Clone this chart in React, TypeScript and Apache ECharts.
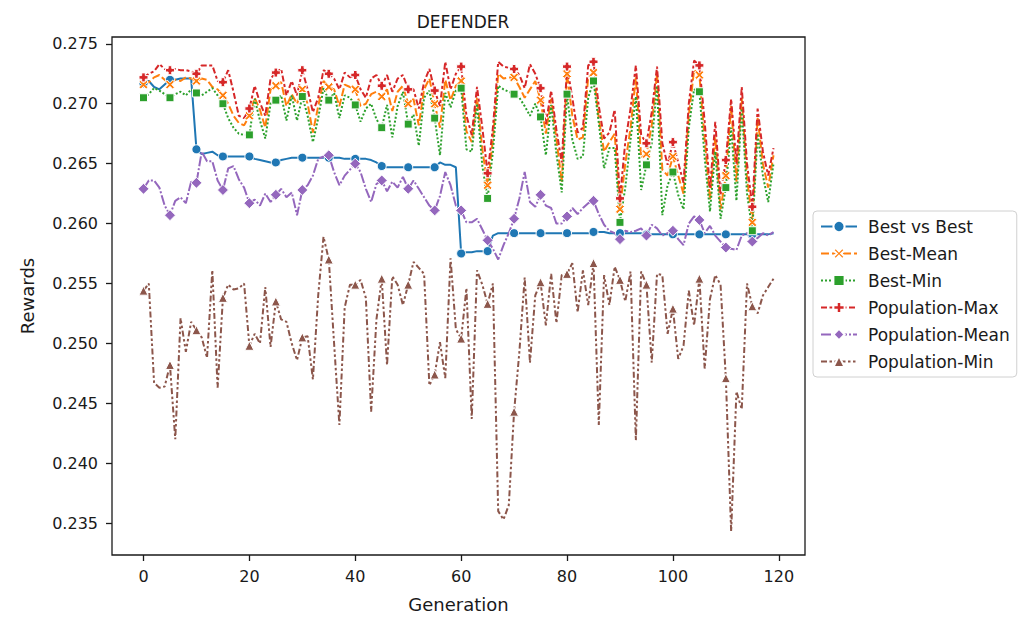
import React, { useEffect, useRef } from "react";
import * as echarts from "echarts";

const generations: number[] = Array.from({ length: 120 }, (_, i) => i);

const bestVsBest = [
  0.2717, 0.2719, 0.2714, 0.2712, 0.2716, 0.2720, 0.2720, 0.2721, 0.2721, 0.2721,
  0.2662, 0.2658, 0.2659, 0.2660, 0.2657, 0.2656, 0.2656, 0.2656, 0.2656, 0.2656,
  0.2656, 0.2654, 0.2653, 0.2652, 0.2651, 0.2651, 0.2653, 0.2654, 0.2655, 0.2655,
  0.2655, 0.2655, 0.2655, 0.2655, 0.2655, 0.2655, 0.2655, 0.2655, 0.2654, 0.2654,
  0.2654, 0.2654, 0.2654, 0.2653, 0.2651, 0.2648, 0.2647, 0.2647, 0.2647, 0.2647,
  0.2647, 0.2647, 0.2647, 0.2647, 0.2647, 0.2647, 0.2651, 0.2649, 0.2649, 0.2647,
  0.2575, 0.2576, 0.2576, 0.2577, 0.2577, 0.2577, 0.2590, 0.2592, 0.2592, 0.2592,
  0.2592, 0.2592, 0.2592, 0.2592, 0.2592, 0.2592, 0.2592, 0.2592, 0.2592, 0.2592,
  0.2592, 0.2592, 0.2592, 0.2592, 0.2592, 0.2593, 0.2593, 0.2593, 0.2592, 0.2592,
  0.2592, 0.2592, 0.2592, 0.2592, 0.2592, 0.2591, 0.2591, 0.2591, 0.2591, 0.2591,
  0.2591, 0.2591, 0.2591, 0.2591, 0.2591, 0.2591, 0.2591, 0.2591, 0.2591, 0.2591,
  0.2591, 0.2591, 0.2591, 0.2591, 0.2591, 0.2591, 0.2591, 0.2591, 0.2591, 0.2592,
];

const bestMean = [
  0.2716, 0.2718, 0.2722, 0.2724, 0.2720, 0.2716, 0.2720, 0.2719, 0.2722, 0.2721,
  0.2719, 0.2721, 0.2720, 0.2714, 0.2712, 0.2707, 0.2700, 0.2690, 0.2684, 0.2682,
  0.2690, 0.2705, 0.2695, 0.2680, 0.2712, 0.2715, 0.2718, 0.2698, 0.2708, 0.2700,
  0.2712, 0.2700, 0.2676, 0.2698, 0.2719, 0.2714, 0.2712, 0.2698, 0.2716, 0.2714,
  0.2712, 0.2698, 0.2700, 0.2708, 0.2710, 0.2706, 0.2712, 0.2694, 0.2710, 0.2715,
  0.2700, 0.2704, 0.2682, 0.2712, 0.2721, 0.2700, 0.2680, 0.2720, 0.2703, 0.2715,
  0.2719, 0.2677, 0.2668, 0.2705, 0.2662, 0.2632, 0.2670, 0.2725, 0.2721, 0.2722,
  0.2722, 0.2714, 0.2705, 0.2712, 0.2719, 0.2703, 0.2675, 0.2704, 0.2670, 0.2635,
  0.2725, 0.2690, 0.2670, 0.2672, 0.2722, 0.2726, 0.2688, 0.2660, 0.2668, 0.2675,
  0.2612, 0.2650, 0.2680, 0.2722, 0.2655, 0.2658, 0.2682, 0.2725, 0.2645, 0.2640,
  0.2656, 0.2640, 0.2625, 0.2690, 0.2728, 0.2724, 0.2670, 0.2620, 0.2672, 0.2612,
  0.2640, 0.2698, 0.2635, 0.2705, 0.2638, 0.2601, 0.2688, 0.2650, 0.2630, 0.2657,
];

const bestMin = [
  0.2705, 0.2708, 0.2713, 0.2711, 0.2708, 0.2705, 0.2708, 0.2710, 0.2707, 0.2712,
  0.2709, 0.2707, 0.2710, 0.2713, 0.2707, 0.2700, 0.2688, 0.2680, 0.2675, 0.2674,
  0.2674, 0.2704, 0.2686, 0.2671, 0.2700, 0.2703, 0.2707, 0.2686, 0.2707, 0.2686,
  0.2706, 0.2690, 0.2668, 0.2688, 0.2713, 0.2703, 0.2709, 0.2688, 0.2707, 0.2705,
  0.2699, 0.2685, 0.2696, 0.2700, 0.2687, 0.2680, 0.2699, 0.2672, 0.2698, 0.2710,
  0.2683, 0.2691, 0.2665, 0.2705, 0.2711, 0.2688, 0.2657, 0.2709, 0.2697, 0.2711,
  0.2713, 0.2662, 0.2660, 0.2700, 0.2648, 0.2621, 0.2660, 0.2715, 0.2712, 0.2710,
  0.2708, 0.2705, 0.2698, 0.2690, 0.2700, 0.2689, 0.2657, 0.2699, 0.2658, 0.2626,
  0.2708, 0.2670, 0.2654, 0.2656, 0.2705, 0.2719, 0.2684, 0.2646, 0.2663, 0.2663,
  0.2601, 0.2630, 0.2670, 0.2706, 0.2628, 0.2649, 0.2667, 0.2715, 0.2607, 0.2632,
  0.2643, 0.2624, 0.2612, 0.2680, 0.2712, 0.2710, 0.2655, 0.2610, 0.2660, 0.2604,
  0.2630, 0.2680, 0.2619, 0.2696, 0.2625, 0.2594, 0.2675, 0.2640, 0.2618, 0.2650,
];

const popMax = [
  0.2722, 0.2725, 0.2727, 0.2733, 0.2729, 0.2728, 0.2729, 0.2728, 0.2728, 0.2727,
  0.2725, 0.2732, 0.2732, 0.2732, 0.2719, 0.2718, 0.2728, 0.2710, 0.2690, 0.2688,
  0.2696, 0.2715, 0.2701, 0.2690, 0.2721, 0.2726, 0.2729, 0.2707, 0.2719, 0.2707,
  0.2728, 0.2712, 0.2693, 0.2705, 0.2728, 0.2725, 0.2721, 0.2712, 0.2726, 0.2722,
  0.2724, 0.2712, 0.2705, 0.2721, 0.2724, 0.2715, 0.2724, 0.2710, 0.2721, 0.2724,
  0.2712, 0.2712, 0.2696, 0.2718, 0.2729, 0.2711, 0.2698, 0.2735, 0.2712, 0.2725,
  0.2731, 0.2690, 0.2674, 0.2714, 0.2680, 0.2642, 0.2680, 0.2735, 0.2731, 0.2730,
  0.2729, 0.2724, 0.2713, 0.2733, 0.2725, 0.2713, 0.2683, 0.2711, 0.2678, 0.2651,
  0.2731, 0.2705, 0.2676, 0.2680, 0.2732, 0.2735, 0.2698, 0.2671, 0.2676, 0.2695,
  0.2621, 0.2668, 0.2696, 0.2732, 0.2674, 0.2667, 0.2693, 0.2731, 0.2667, 0.2649,
  0.2668, 0.2651, 0.2634, 0.2700, 0.2736, 0.2732, 0.2685, 0.2629, 0.2685, 0.2624,
  0.2653, 0.2704, 0.2650, 0.2714, 0.2650, 0.2614, 0.2696, 0.2660, 0.2640, 0.2663,
];

const popMean = [
  0.2629, 0.2636, 0.2636, 0.2630, 0.2615, 0.2607, 0.2619, 0.2622, 0.2617, 0.2635,
  0.2634, 0.2660, 0.2652, 0.2652, 0.2636, 0.2628, 0.2646, 0.2648, 0.2637, 0.2630,
  0.2617, 0.2620, 0.2615, 0.2625, 0.2618, 0.2624, 0.2629, 0.2622, 0.2626, 0.2607,
  0.2628, 0.2632, 0.2640, 0.2654, 0.2656, 0.2657, 0.2643, 0.2632, 0.2640, 0.2645,
  0.2650, 0.2643, 0.2629, 0.2618, 0.2633, 0.2636, 0.2627, 0.2635, 0.2630, 0.2639,
  0.2629, 0.2636, 0.2629, 0.2622, 0.2615, 0.2611, 0.2623, 0.2643, 0.2632, 0.2615,
  0.2611, 0.2601, 0.2601, 0.2604, 0.2595, 0.2586, 0.2579, 0.2570, 0.2582, 0.2592,
  0.2604, 0.2621, 0.2643, 0.2618, 0.2614, 0.2624, 0.2615, 0.2613, 0.2600, 0.2600,
  0.2606, 0.2613, 0.2608, 0.2613, 0.2617, 0.2619, 0.2608, 0.2599, 0.2594, 0.2592,
  0.2587, 0.2594, 0.2593, 0.2594, 0.2596, 0.2590, 0.2599, 0.2596, 0.2590, 0.2592,
  0.2594, 0.2587, 0.2582, 0.2600, 0.2606, 0.2603, 0.2592, 0.2598, 0.2590, 0.2585,
  0.2580, 0.2579, 0.2578, 0.2590, 0.2592, 0.2585, 0.2588, 0.2592, 0.2590, 0.2593,
];

const popMin = [
  0.2544, 0.2550, 0.2467, 0.2463, 0.2464, 0.2482, 0.2420, 0.2521, 0.2493, 0.2518,
  0.2511, 0.2505, 0.2488, 0.2561, 0.2463, 0.2538, 0.2549, 0.2545, 0.2546, 0.2550,
  0.2498, 0.2508, 0.2500, 0.2547, 0.2497, 0.2535, 0.2520, 0.2518, 0.2500, 0.2486,
  0.2505, 0.2506, 0.2470, 0.2540, 0.2589, 0.2570, 0.2500, 0.2432, 0.2530, 0.2549,
  0.2549, 0.2553, 0.2538, 0.2443, 0.2520, 0.2554, 0.2482, 0.2556, 0.2549, 0.2532,
  0.2549, 0.2568, 0.2563, 0.2558, 0.2465, 0.2474, 0.2501, 0.2471, 0.2571, 0.2512,
  0.2504, 0.2546, 0.2437, 0.2561, 0.2549, 0.2533, 0.2550, 0.2360, 0.2353, 0.2365,
  0.2443, 0.2493, 0.2555, 0.2484, 0.2540, 0.2551, 0.2515, 0.2558, 0.2517, 0.2557,
  0.2558, 0.2567, 0.2526, 0.2561, 0.2532, 0.2567, 0.2432, 0.2557, 0.2532, 0.2564,
  0.2553, 0.2535, 0.2560, 0.2419, 0.2560, 0.2549, 0.2484, 0.2558, 0.2557, 0.2508,
  0.2529, 0.2487, 0.2498, 0.2544, 0.2515, 0.2554, 0.2479, 0.2537, 0.2557, 0.2549,
  0.2471, 0.2343, 0.2460, 0.2445, 0.2550, 0.2531, 0.2525, 0.2540, 0.2547, 0.2554,
];

const xTicks = [0, 20, 40, 60, 80, 100, 120];
const yTicks = [0.235, 0.24, 0.245, 0.25, 0.255, 0.26, 0.265, 0.27, 0.275];

const FONT = "DejaVu Sans";
const MARK_EVERY = 5;

const X_PATH =
  "path://M0,2L2,0L5,3L8,0L10,2L7,5L10,8L8,10L5,7L2,10L0,8L3,5Z";
const P_PATH = "path://M3,0L7,0L7,3L10,3L10,7L7,7L7,10L3,10L3,7L0,7L0,3L3,3Z";

const seriesDefs = [
  { name: "Best vs Best", values: bestVsBest, color: "#1f77b4", dash: "solid" as any, symbol: "circle", size: 9 },
  { name: "Best-Mean", values: bestMean, color: "#ff7f0e", dash: [8, 3], symbol: X_PATH, size: 9 },
  { name: "Best-Min", values: bestMin, color: "#2ca02c", dash: [2, 2], symbol: "rect", size: 8 },
  { name: "Population-Max", values: popMax, color: "#d62728", dash: [6, 2.5, 3, 2.5], symbol: P_PATH, size: 9 },
  { name: "Population-Mean", values: popMean, color: "#9467bd", dash: [10, 2, 2, 2], symbol: "diamond", size: 11 },
  { name: "Population-Min", values: popMin, color: "#8c564b", dash: [6, 2.5, 2.5, 2.5, 2.5, 2.5], symbol: "triangle", size: 9 },
];

export default function App() {
  const ref = useRef<HTMLDivElement>(null);

  useEffect(() => {
    if (!ref.current) return;
    const chart = echarts.init(ref.current, undefined, { renderer: "svg" });

    const series = seriesDefs.map((s) => ({
      type: "line",
      name: s.name,
      symbol: s.symbol,
      symbolSize: s.size,
      showSymbol: true,
      showAllSymbol: true,
      data: generations.map((g, i) =>
        i % MARK_EVERY === 0
          ? { value: [g, s.values[i]] }
          : { value: [g, s.values[i]], symbol: "none" }
      ),
      lineStyle: { color: s.color, width: 2, type: s.dash },
      itemStyle: { color: s.color, borderColor: "#ffffff", borderWidth: 1 },
      emphasis: { disabled: true },
    }));

    chart.setOption({
      animation: false,
      backgroundColor: "#ffffff",
      textStyle: { fontFamily: FONT },
      title: {
        text: "DEFENDER",
        left: 458,
        top: 8,
        textAlign: "center",
        textStyle: { fontFamily: FONT, fontSize: 17, fontWeight: "normal", color: "#1a1a1a" },
      },
      grid: {
        left: 112,
        top: 37,
        width: 693,
        height: 519,
        show: true,
        borderColor: "#1a1a1a",
        borderWidth: 1.3,
        backgroundColor: "transparent",
      },
      xAxis: {
        type: "value",
        min: -5.95,
        max: 124.95,
        name: "Generation",
        nameLocation: "middle",
        nameGap: 40,
        nameTextStyle: { fontFamily: FONT, fontSize: 18, color: "#1a1a1a" },
        axisLine: { show: false, onZero: false },
        splitLine: { show: false },
        axisTick: {
          show: true,
          inside: false,
          length: 6,
          customValues: xTicks,
          lineStyle: { color: "#1a1a1a", width: 1.3 },
        },
        axisLabel: {
          customValues: xTicks,
          margin: 13,
          fontFamily: FONT,
          fontSize: 16,
          color: "#1a1a1a",
        },
      },
      yAxis: {
        type: "value",
        min: 0.23234,
        max: 0.27557,
        name: "Rewards",
        nameLocation: "middle",
        nameGap: 76,
        nameTextStyle: { fontFamily: FONT, fontSize: 18, color: "#1a1a1a" },
        axisLine: { show: false, onZero: false },
        splitLine: { show: false },
        axisTick: {
          show: true,
          inside: false,
          length: 6,
          customValues: yTicks,
          lineStyle: { color: "#1a1a1a", width: 1.3 },
        },
        axisLabel: {
          customValues: yTicks,
          margin: 14,
          fontFamily: FONT,
          fontSize: 16,
          color: "#1a1a1a",
          formatter: (v: number) => v.toFixed(3),
        },
      },
      legend: {
        orient: "vertical",
        left: 813,
        top: 211,
        itemWidth: 36,
        itemHeight: 14,
        itemGap: 10,
        padding: [7, 7, 7, 7],
        borderColor: "#d0d0d0",
        borderWidth: 1,
        borderRadius: 4,
        backgroundColor: "#ffffff",
        textStyle: { fontFamily: FONT, fontSize: 17, color: "#1a1a1a", padding: [0, 0, 0, 6] },
        data: seriesDefs.map((s) => s.name),
      },
      series,
    });

    return () => chart.dispose();
  }, []);

  return (
    <div
      ref={ref}
      style={{ position: "fixed", left: 0, top: 0, width: 1022, height: 618, background: "#fff" }}
    />
  );
}
